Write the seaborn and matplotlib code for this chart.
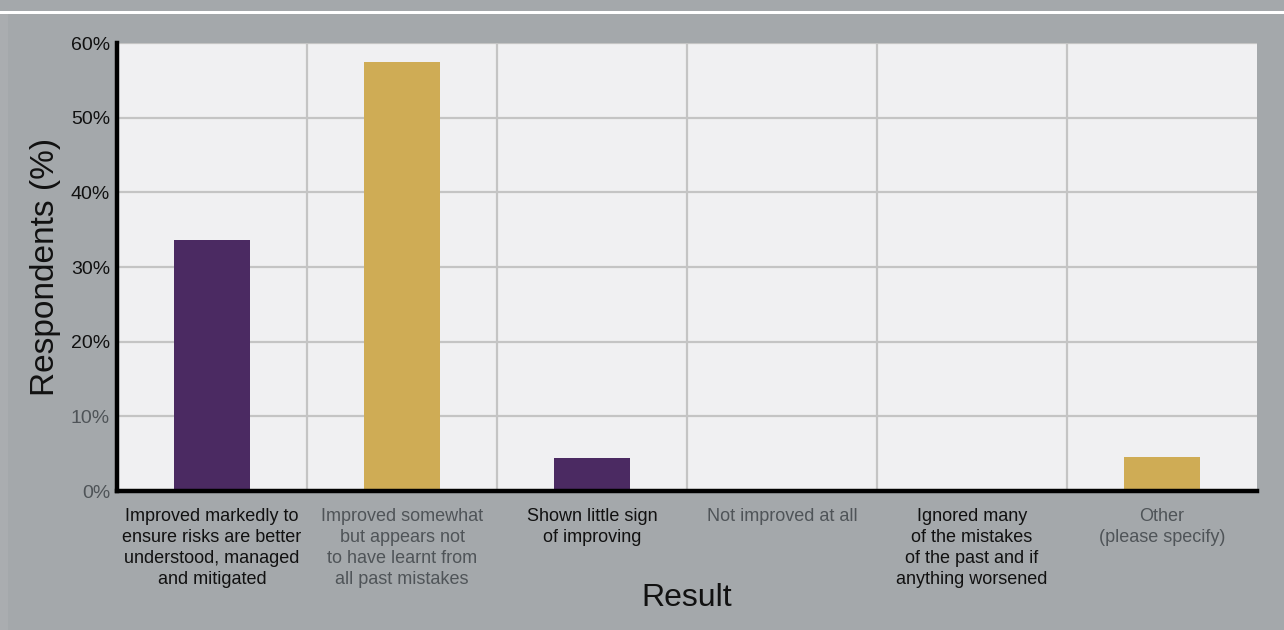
import pandas as pd
import matplotlib.pyplot as plt
import seaborn as sns
from matplotlib.patches import Rectangle

# Data
categories = [
    "Improved markedly to\nensure risks are better\nunderstood, managed\nand mitigated",
    "Improved somewhat\nbut appears not\nto have learnt from\nall past mistakes",
    "Shown little sign\nof improving",
    "Not improved at all",
    "Ignored many\nof the mistakes\nof the past and if\nanything worsened",
    "Other\n(please specify)",
]
respondents = [33.6, 57.5, 4.4, 0.0, 0.0, 4.6]
yticks = [0, 10, 20, 30, 40, 50, 60]

bar_colors = ["#4b2a62", "#cfac55", "#4b2a62", "#cfac55", "#4b2a62", "#cfac55"]
xlabel_colors = ["#111111", "#4f5458", "#111111", "#4f5458", "#111111", "#4f5458"]
ylabel_colors = ["#4f5458", "#4f5458", "#111111", "#111111", "#111111", "#111111", "#111111"]

df = pd.DataFrame({"Result": categories, "Respondents": respondents})

sns.set_style("white")
plt.rcParams['font.family'] = ['Liberation Sans', 'DejaVu Sans']

fig = plt.figure(figsize=(12.84, 6.3), dpi=100)
fig.patch.set_facecolor("#a4a8ab")
# thin white rule near the top and slightly lighter left strip
fig.add_artist(Rectangle((0, 1 - 14 / 630), 1, 3 / 630, transform=fig.transFigure,
                         facecolor="white", edgecolor="none"))
fig.add_artist(Rectangle((0, 0), 8 / 1284, 1 - 14 / 630, transform=fig.transFigure,
                         facecolor="#aaadb0", edgecolor="none"))

ax = fig.add_axes([117 / 1284, 1 - 491 / 630, 1140 / 1284, 448 / 630])
ax.set_facecolor("#f0f0f2")

sns.barplot(data=df, x="Result", y="Respondents", hue="Result", palette=bar_colors,
            width=0.4, legend=False, ax=ax, saturation=1, linewidth=0, zorder=3)

ax.set_ylim(0, 60)
ax.set_xlim(-0.5, len(categories) - 0.5)
ax.set_yticks(yticks)
ax.set_yticklabels([f"{v}%" for v in yticks], fontsize=14)
for lab, c in zip(ax.get_yticklabels(), ylabel_colors):
    lab.set_color(c)

ax.set_xticks(range(len(categories)))
ax.set_xticklabels(categories, fontsize=13, linespacing=1.32, ha="center", va="top")
for lab, c in zip(ax.get_xticklabels(), xlabel_colors):
    lab.set_color(c)

# vertical grid lines between categories
ax.set_xticks([i + 0.5 for i in range(len(categories) - 1)], minor=True)
ax.grid(axis="y", which="major", color="#c4c4c4", linewidth=1.6, zorder=0)
ax.grid(axis="x", which="minor", color="#c4c4c4", linewidth=1.6, zorder=0)
ax.set_axisbelow(True)

ax.tick_params(axis="both", which="both", length=0)
ax.tick_params(axis="y", pad=5)
ax.tick_params(axis="x", pad=12)

for side in ["top", "right"]:
    ax.spines[side].set_visible(False)
for side in ["left", "bottom"]:
    ax.spines[side].set_color("black")
    ax.spines[side].set_linewidth(3.2)
    ax.spines[side].set_zorder(5)

ax.set_ylabel("Respondents (%)", fontsize=24, color="#111111", labelpad=7)
ax.set_xlabel("Result", fontsize=23, color="#111111", labelpad=-4)

plt.savefig("out.png", dpi=100, facecolor=fig.get_facecolor())
